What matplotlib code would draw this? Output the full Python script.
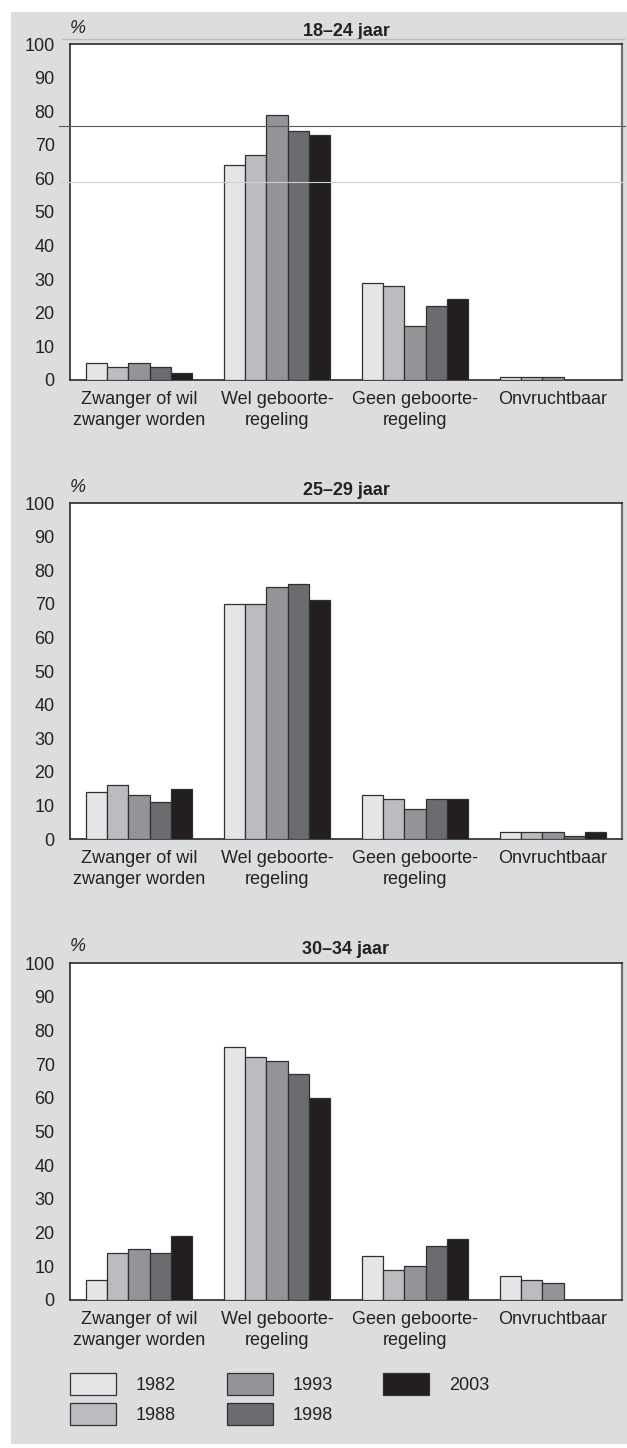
import matplotlib
matplotlib.use("Agg")
import matplotlib.pyplot as plt
from matplotlib.patches import Rectangle, Patch
from matplotlib.lines import Line2D
import numpy as np

plt.rcParams["font.family"] = ["Liberation Sans", "DejaVu Sans"]

# Categories and survey years
categories = ["Zwanger of wil\nzwanger worden", "Wel geboorte-\nregeling",
              "Geen geboorte-\nregeling", "Onvruchtbaar"]
years = ["1982", "1988", "1993", "1998", "2003"]
year_colors = ["#e4e5e7", "#bbbcbf", "#939497", "#6b6c70", "#231f20"]

# Percentages per age group: one list per year, values per category
age_18_24 = {
    "1982": [5, 64, 29, 1],
    "1988": [4, 67, 28, 1],
    "1993": [5, 79, 16, 1],
    "1998": [4, 74, 22, 0],
    "2003": [2, 73, 24, 0],
}
age_25_29 = {
    "1982": [14, 70, 13, 2],
    "1988": [16, 70, 12, 2],
    "1993": [13, 75, 9, 2],
    "1998": [11, 76, 12, 1],
    "2003": [15, 71, 12, 2],
}
age_30_34 = {
    "1982": [6, 75, 13, 7],
    "1988": [14, 72, 9, 6],
    "1993": [15, 71, 10, 5],
    "1998": [14, 67, 16, 0],
    "2003": [19, 60, 18, 0],
}
panel_titles = ["18\u201324 jaar", "25\u201329 jaar", "30\u201334 jaar"]
panel_data = [age_18_24, age_25_29, age_30_34]
y_ticks = [0, 10, 20, 30, 40, 50, 60, 70, 80, 90, 100]

W, H = 627, 1448
fig = plt.figure(figsize=(W / 100, H / 100), dpi=100, facecolor="white")

# grey backdrop panel behind everything
fig.add_artist(Rectangle((11 / W, 4 / H), 1 - 11 / W, 1 - 16 / H,
                         transform=fig.transFigure, facecolor="#dcdddf",
                         edgecolor="none", zorder=-10))

# axes placement in pixels: (top, bottom)
panel_px = [(44, 380), (503, 839), (963, 1300)]
left_px, right_px = 70, 622

n_years = len(years)
bar_w = 0.1545
x = np.arange(len(categories))

for (top, bot), title, data in zip(panel_px, panel_titles, panel_data):
    ax = fig.add_axes([left_px / W, 1 - bot / H, (right_px - left_px) / W, (bot - top) / H])
    ax.set_facecolor("white")
    for i, yr in enumerate(years):
        offs = (i - (n_years - 1) / 2) * bar_w
        ax.bar(x + offs, data[yr], width=bar_w, color=year_colors[i],
               edgecolor="#303030", linewidth=0.9, zorder=3)
    ax.set_xlim(-0.5, 3.5)
    ax.set_ylim(0, 100)
    ax.set_yticks(y_ticks)
    ax.set_xticks(x)
    ax.set_xticklabels(categories, fontsize=13, color="#222222", linespacing=1.3)
    ax.tick_params(axis="both", length=0, labelsize=13, colors="#222222")
    ax.tick_params(axis="y", pad=11)
    ax.tick_params(axis="x", pad=8)
    for side in ["left", "bottom", "top"]:
        ax.spines[side].set_color("#2a2a2a")
        ax.spines[side].set_linewidth(1.2)
    ax.spines["right"].set_color("#707070")
    ax.spines["right"].set_linewidth(1.6)
    ax.text(0.5, 1.0 + 13 / (bot - top), title, transform=ax.transAxes,
            ha="center", va="center", fontsize=13, fontweight="bold", color="#222222")
    ax.text(0.0, 1.0 + 16 / (bot - top), "%", transform=ax.transAxes,
            ha="left", va="center", fontsize=13, fontstyle="italic", color="#222222")

# faint rule lines across the first panel
fig.add_artist(Line2D([62 / W, 624 / W], [1 - 39 / H, 1 - 39 / H],
                      transform=fig.transFigure, color="#bcbcbc", linewidth=1.0))
fig.add_artist(Line2D([59 / W, 625 / W], [1 - 126 / H, 1 - 126 / H],
                      transform=fig.transFigure, color="#5a5a5a", linewidth=0.8, zorder=5))
fig.add_artist(Line2D([59 / W, 625 / W], [1 - 182 / H, 1 - 182 / H],
                      transform=fig.transFigure, color="#cfcfcf", linewidth=0.8, zorder=5))

# legend: two rows, filled column by column
handles = [Patch(facecolor=c, edgecolor="#303030", linewidth=0.9) for c in year_colors]
fig.legend(handles, years, loc="upper left", bbox_to_anchor=(70 / W, 1 - 1373 / H),
           ncol=3, frameon=False, fontsize=13, borderpad=0, borderaxespad=0,
           handlelength=2.55, handleheight=1.5, handletextpad=1.1,
           columnspacing=2.8, labelspacing=0.45, labelcolor="#222222")

fig.savefig("out.png", dpi=100, facecolor="white")
